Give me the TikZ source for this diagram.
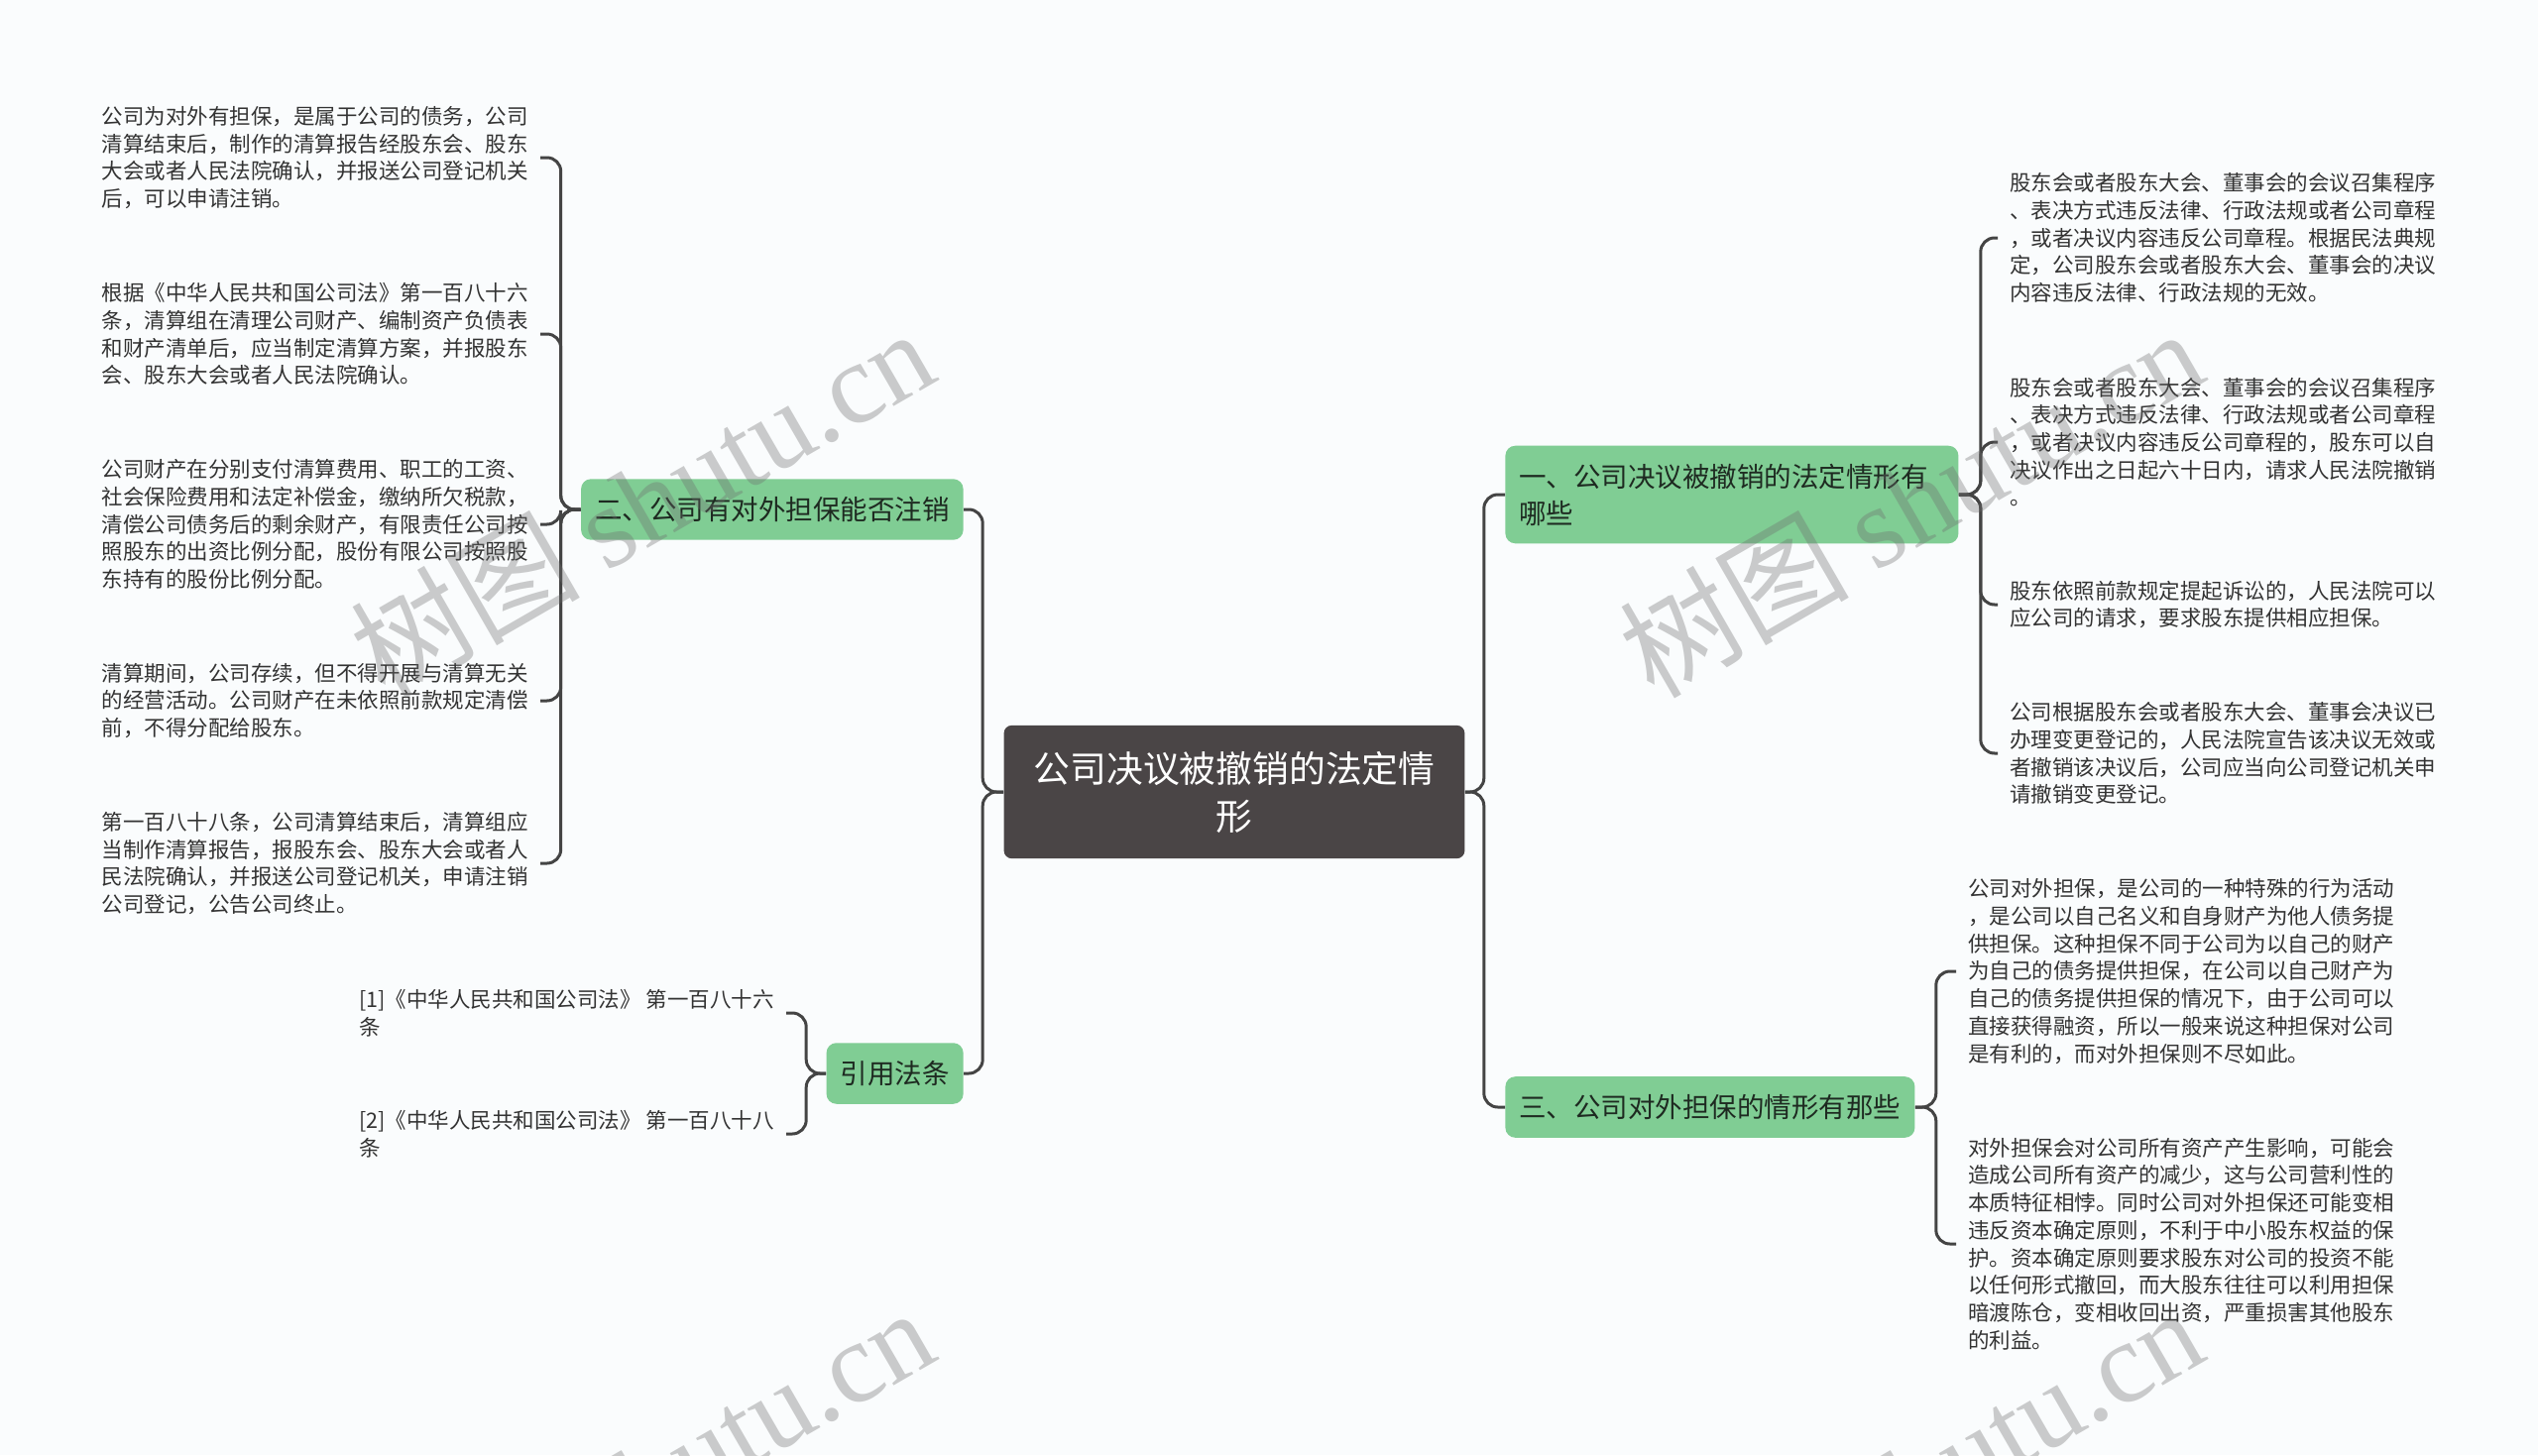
\documentclass[tikz,border=0pt]{standalone}
\usepackage{fontspec}
\setmainfont{Noto Sans CJK SC}
\newfontfamily\wmfont{Liberation Serif}
\usepackage{tikz}
\definecolor{bgcol}{RGB}{250,252,253}
\definecolor{rootfill}{RGB}{74,69,70}
\definecolor{branchfill}{RGB}{128,205,148}
\definecolor{branchtext}{RGB}{30,42,33}
\definecolor{leaftext}{RGB}{51,51,51}
\definecolor{linegray}{RGB}{68,68,68}
\definecolor{wmgray}{RGB}{110,110,110}

\begin{document}
\begin{tikzpicture}[x=0.5pt, y=-0.5pt]
	\tikzstyle{root} = [ fill=rootfill, rounded corners=4pt, text=white, align=center, inner xsep=15pt, inner ysep=13pt, font={\fontsize{18.4}{24}\selectfont}];
	\tikzstyle{branch} = [ fill=branchfill, rounded corners=5pt, text=branchtext, align=left, inner xsep=7pt, inner ysep=9pt, font={\fontsize{13.75}{18.5}\selectfont}];
	\tikzstyle{leaf} = [ text=leaftext, align=left, inner xsep=6pt, inner ysep=3pt, font={\fontsize{10.75}{13.85}\selectfont}];
	\tikzstyle{link} = [ draw=linegray, line width=1.5pt, rounded corners=7pt];
	\tikzstyle{wmark} = [ rotate=30, text=wmgray, text opacity=0.35, font={\fontsize{58}{60}\selectfont}];

	\fill[bgcol] (0,0) rectangle (2560,1468);
	\useasboundingbox (0,0) rectangle (2560,1468);

	\node[root] (root) at (1245,799) {公司决议被撤销的法定情\\形};

	\node[branch, anchor=west, text width=214.5pt] (b1) at (1518,499) {一、公司决议被撤销的法定情形有\\哪些};
	\node[branch, anchor=west] (b3) at (1518,1117) {三、公司对外担保的情形有那些};
	\node[branch, anchor=east] (b2) at (972,514) {二、公司有对外担保能否注销};
	\node[branch, anchor=east] (b4) at (972,1083) {引用法条};

	\foreach \b in {b1,b3}
		\draw[link] (root.east) -- ++(19,0) |- (\b.west);
	\foreach \b in {b2,b4}
		\draw[link] (root.west) -- ++(-21,0) |- (\b.east);

	% left leaves of b2
	\foreach \ty/\txt [count=\i] in {
		159/{公司为对外有担保，是属于公司的债务，公司\\清算结束后，制作的清算报告经股东会、股东\\大会或者人民法院确认，并报送公司登记机关\\后，可以申请注销。},
		337/{根据《中华人民共和国公司法》第一百八十六\\条，清算组在清理公司财产、编制资产负债表\\和财产清单后，应当制定清算方案，并报股东\\会、股东大会或者人民法院确认。},
		529/{公司财产在分别支付清算费用、职工的工资、\\社会保险费用和法定补偿金，缴纳所欠税款，\\清偿公司债务后的剩余财产，有限责任公司按\\照股东的出资比例分配，股份有限公司按照股\\东持有的股份比例分配。},
		707/{清算期间，公司存续，但不得开展与清算无关\\的经营活动。公司财产在未依照前款规定清偿\\前，不得分配给股东。},
		871/{第一百八十八条，公司清算结束后，清算组应\\当制作清算报告，报股东会、股东大会或者人\\民法院确认，并报送公司登记机关，申请注销\\公司登记，公告公司终止。}} {
		\node[leaf, anchor=east] (l\i) at (545,\ty) {\txt};
		\draw[link] (b2.west) -- ++(-20,0) |- (l\i.east);
	}

	% references of b4
	\foreach \ty/\txt [count=\i] in {
		1022/{[1]《中华人民共和国公司法》 第一百八十六\\条},
		1144/{[2]《中华人民共和国公司法》 第一百八十八\\条}} {
		\node[leaf, anchor=east] (ref\i) at (793,\ty) {\txt};
		\draw[link] (b4.west) -- ++(-20,0) |- (ref\i.east);
	}

	% right leaves of b1
	\foreach \ty/\txt [count=\i] in {
		240/{股东会或者股东大会、董事会的会议召集程序\\、表决方式违反法律、行政法规或者公司章程\\，或者决议内容违反公司章程。根据民法典规\\定，公司股东会或者股东大会、董事会的决议\\内容违反法律、行政法规的无效。},
		446/{股东会或者股东大会、董事会的会议召集程序\\、表决方式违反法律、行政法规或者公司章程\\，或者决议内容违反公司章程的，股东可以自\\决议作出之日起六十日内，请求人民法院撤销\\。},
		610/{股东依照前款规定提起诉讼的，人民法院可以\\应公司的请求，要求股东提供相应担保。},
		760/{公司根据股东会或者股东大会、董事会决议已\\办理变更登记的，人民法院宣告该决议无效或\\者撤销该决议后，公司应当向公司登记机关申\\请撤销变更登记。}} {
		\node[leaf, anchor=west] (r\i) at (2015,\ty) {\txt};
		\draw[link] (b1.east) -- ++(22,0) |- (r\i.west);
	}

	% right leaves of b3
	\foreach \ty/\txt [count=\i] in {
		980/{公司对外担保，是公司的一种特殊的行为活动\\，是公司以自己名义和自身财产为他人债务提\\供担保。这种担保不同于公司为以自己的财产\\为自己的债务提供担保，在公司以自己财产为\\自己的债务提供担保的情况下，由于公司可以\\直接获得融资，所以一般来说这种担保对公司\\是有利的，而对外担保则不尽如此。},
		1255/{对外担保会对公司所有资产产生影响，可能会\\造成公司所有资产的减少，这与公司营利性的\\本质特征相悖。同时公司对外担保还可能变相\\违反资本确定原则，不利于中小股东权益的保\\护。资本确定原则要求股东对公司的投资不能\\以任何形式撤回，而大股东往往可以利用担保\\暗渡陈仓，变相收回出资，严重损害其他股东\\的利益。}} {
		\node[leaf, anchor=west] (s\i) at (1973,\ty) {\txt};
		\draw[link] (b3.east) -- ++(21,0) |- (s\i.west);
	}

	% watermark
	\begin{scope}
		\clip (0,0) rectangle (2560,1468);
		\foreach \wx/\wy [count=\i] in {647/506, 1927/506, 647/1494, 1927/1494}
			\node[wmark] (wm\i) at (\wx,\wy) {树图 {\wmfont shutu.cn}};
	\end{scope}

\end{tikzpicture}
\end{document}
